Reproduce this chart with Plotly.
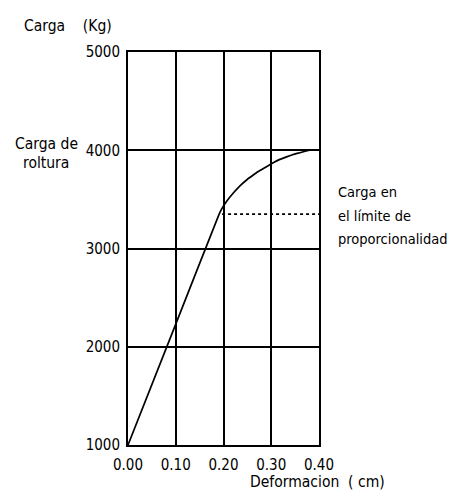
import plotly.graph_objects as go

# Data
deform = [0.0, 0.10, 0.19, 0.196, 0.207, 0.221, 0.235, 0.249, 0.263, 0.276,
          0.290, 0.304, 0.318, 0.332, 0.346, 0.360, 0.371, 0.38]
carga = [1000, 2230, 3340, 3400, 3483, 3567, 3640, 3700, 3750, 3793,
         3833, 3873, 3907, 3933, 3957, 3975, 3990, 4000]

prop_x = [0.197, 0.40]
prop_y = [3350, 3350]

x_ticks = [0.0, 0.1, 0.2, 0.3, 0.4]
x_labels = ["0.00", "0.10", "0.20", "0.30", "0.40"]
y_ticks = [1000, 2000, 3000, 4000, 5000]
y_labels = ["1000", "2000", "3000", "4000", "5000"]

FONT = "DejaVu Sans Condensed, Liberation Sans Narrow, Arial Narrow, DejaVu Sans, sans-serif"
FS = 15.5
RFS = 14.5
TFS = 15

fig = go.Figure()
fig.add_trace(go.Scatter(x=deform, y=carga, mode="lines",
                         line=dict(color="black", width=1.7, shape="spline", smoothing=0.3),
                         hoverinfo="skip", showlegend=False))
fig.add_trace(go.Scatter(x=prop_x, y=prop_y, mode="lines",
                         line=dict(color="black", width=1.7, dash="dot"),
                         hoverinfo="skip", showlegend=False))

# plot area in page pixels: left 128, right 319, top 52, bottom 445 (page has an 8px body margin)
def px(xp):
    return (xp - 128) / 191.0

def py(yp):
    return (445 - yp) / 393.0

texts = [
    ("Carga&nbsp;&nbsp;&nbsp;&nbsp;(Kg)", 22, 26, "left", FS),
    ("Carga de", 46, 144, "center", FS),
    ("roltura", 46, 163, "center", FS),
    ("Carga en", 336, 192, "left", RFS),
    ("el límite de", 336, 216, "left", RFS),
    ("proporcionalidad", 336, 239, "left", RFS),
    ("Deformacion&nbsp;&nbsp;( cm)", 248, 482, "left", FS),
]

annotations = [
    dict(text=t, xref="paper", yref="paper", x=px(x), y=py(y), xanchor=a,
         yanchor="middle", showarrow=False, font=dict(family=FONT, size=s, color="black"))
    for t, x, y, a, s in texts
]

fig.update_layout(
    width=449, height=484,
    margin=dict(l=120, r=138, t=44, b=47),
    paper_bgcolor="white", plot_bgcolor="white",
    font=dict(family=FONT, size=FS, color="black"),
    showlegend=False,
    xaxis=dict(range=[0, 0.4], tickvals=x_ticks, ticktext=x_labels,
               showgrid=True, gridcolor="black", gridwidth=1.8,
               showline=True, linecolor="black", linewidth=1.9, mirror=True,
               ticks="", zeroline=False, ticklabelstandoff=5,
               tickfont=dict(family=FONT, size=TFS, color="black")),
    yaxis=dict(range=[1000, 5000], tickvals=y_ticks, ticktext=y_labels,
               showgrid=True, gridcolor="black", gridwidth=1.8,
               showline=True, linecolor="black", linewidth=1.9, mirror=True,
               ticks="", zeroline=False, ticklabelstandoff=3,
               tickfont=dict(family=FONT, size=TFS, color="black")),
    annotations=annotations,
)

fig.write_html("out.html")
